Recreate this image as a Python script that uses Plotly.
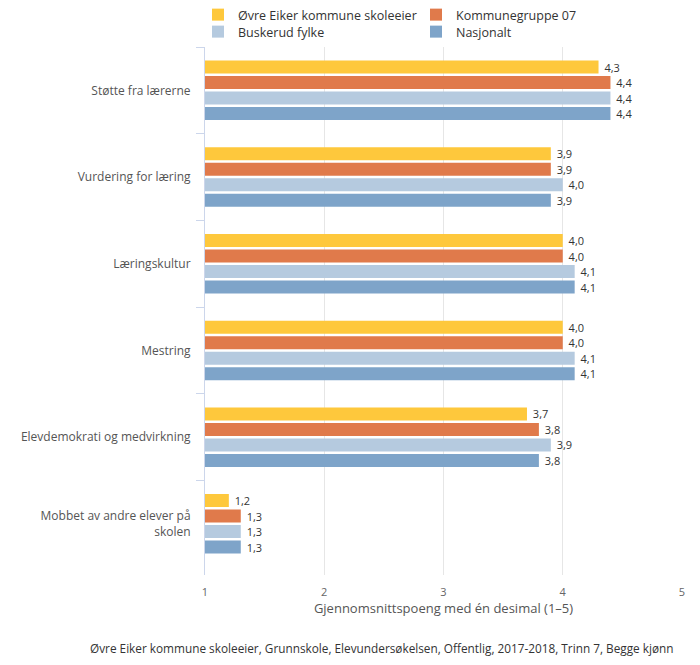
import plotly.graph_objects as go

categories = ["Støtte fra lærerne", "Vurdering for læring", "Læringskultur", "Mestring",
              "Elevdemokrati og medvirkning", "Mobbet av andre elever på<br>skolen"]
series_names = ["Øvre Eiker kommune skoleeier", "Kommunegruppe 07", "Buskerud fylke", "Nasjonalt"]
ovre_eiker = [4.3, 3.9, 4.0, 4.0, 3.7, 1.2]
kommunegruppe = [4.4, 3.9, 4.0, 4.0, 3.8, 1.3]
buskerud = [4.4, 4.0, 4.1, 4.1, 3.9, 1.3]
nasjonalt = [4.4, 3.9, 4.1, 4.1, 3.8, 1.3]
x_ticks = [1, 2, 3, 4, 5]
x_title = "Gjennomsnittspoeng med én desimal (1–5)"
footer = "Øvre Eiker kommune skoleeier, Grunnskole, Elevundersøkelsen, Offentlig, 2017-2018, Trinn 7, Begge kjønn"

colors = ["#FEC83C", "#E07A4B", "#B5CADF", "#7EA4C9"]
legends = ["legend", "legend", "legend2", "legend2"]
all_values = [ovre_eiker, kommunegruppe, buskerud, nasjonalt]

FONT = "Open Sans, Liberation Sans, Arial, sans-serif"

fig = go.Figure()
for name, vals, col, lg in zip(series_names, all_values, colors, legends):
    fig.add_trace(go.Bar(
        y=categories, x=vals, base=0, orientation="h", name=name,
        marker=dict(color=col, line=dict(width=0)),
        text=["\u00a0" + f"{v:.1f}".replace(".", ",") for v in vals],
        textposition="outside", constraintext="none", cliponaxis=False,
        textfont=dict(size=11, color="#333333", family=FONT),
        legend=lg, hoverinfo="skip",
    ))

# page body has an 8px margin, so work in page coordinates minus OFF
OFF = 8
W, H = 700 - OFF, 665 - OFF
left_px, right_px, top_px, bottom_px = 205, 682, 47, 575
L = left_px - OFF
R = W - (right_px - OFF)
T = top_px - OFF
B = H - (bottom_px - OFF)
pw = W - L - R
ph = H - T - B
cat_h = 86.7

legend_common = dict(orientation="h", x=(198 - left_px) / pw, xanchor="left",
                     yanchor="middle", entrywidth=173, entrywidthmode="pixels",
                     font=dict(size=12.5, color="#333333", family=FONT),
                     bgcolor="rgba(0,0,0,0)", traceorder="normal")

fig.update_layout(
    width=W, height=H,
    margin=dict(l=L, r=R, t=T, b=B, pad=0, autoexpand=False),
    paper_bgcolor="white", plot_bgcolor="white",
    barmode="group", bargap=0.285, bargroupgap=0.16,
    font=dict(family=FONT, size=12, color="#666666"),
    showlegend=True,
    legend=dict(y=1 + (top_px - 15) / ph, **legend_common),
    legend2=dict(y=1 + (top_px - 32) / ph, **legend_common),
    xaxis=dict(range=[1, 5], tickvals=x_ticks, ticktext=[str(t) for t in x_ticks],
               showgrid=True, gridcolor="#e6e6e6", gridwidth=1, zeroline=False,
               showline=False, ticks="", tickfont=dict(size=11, color="#666666"),
               ticklabelstandoff=9,
               title=dict(text=x_title, font=dict(size=13, color="#555555"), standoff=4),
               fixedrange=True),
    yaxis=dict(autorange=False,
               range=[5.5 + (bottom_px - top_px - 6 * cat_h) / cat_h, -0.5],
               type="category", categoryorder="array", categoryarray=categories,
               showgrid=False, zeroline=False, showline=True, linecolor="#ccd6eb", linewidth=1,
               ticks="outside", tickson="boundaries", ticklen=8, tickcolor="#ccd6eb",
               tickfont=dict(size=12, color="#555555"), ticklabelstandoff=11,
               fixedrange=True),
)

fig.add_annotation(text=footer, xref="paper", yref="paper", x=(676 - left_px) / pw,
                   xanchor="right", y=-(648 - bottom_px) / ph, yanchor="middle",
                   showarrow=False, font=dict(size=11.8, color="#333333", family=FONT))

fig.write_html("out.html")
